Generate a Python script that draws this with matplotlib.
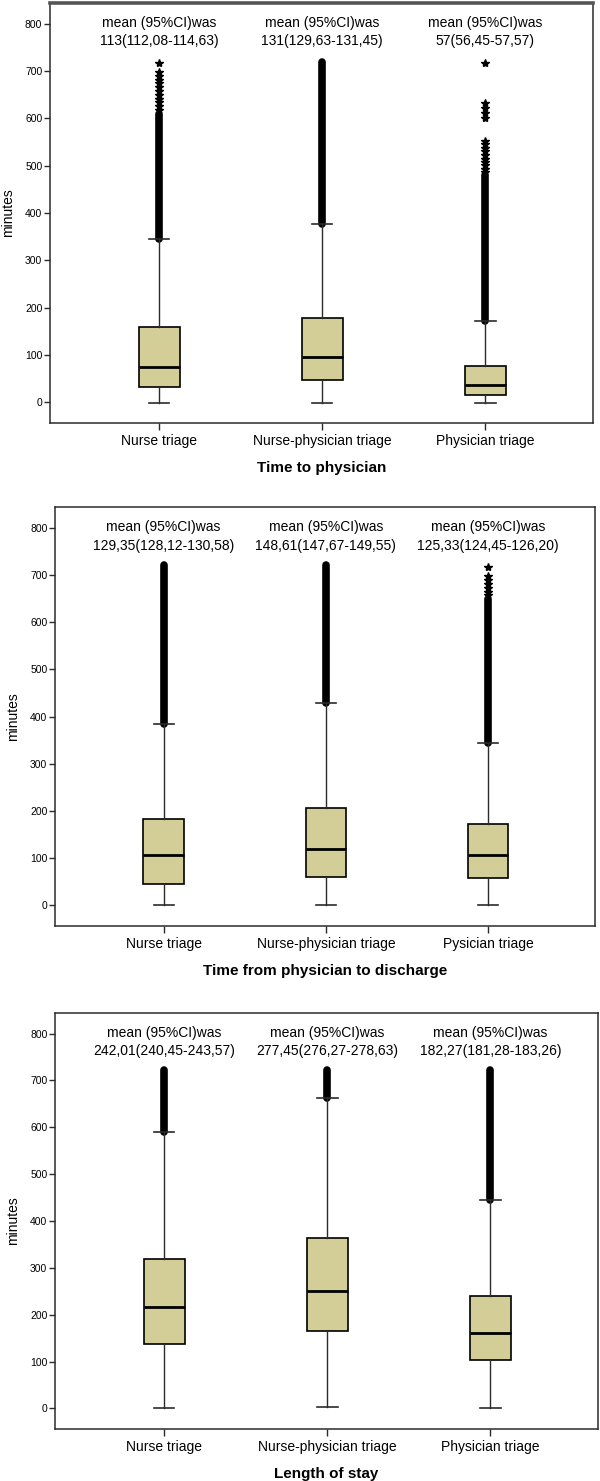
import numpy as np
import matplotlib
matplotlib.use('Agg')
import matplotlib.pyplot as plt

plt.rcParams['font.family'] = ['Liberation Sans', 'DejaVu Sans']

# group names per panel
groups_a = ['Nurse triage', 'Nurse-physician triage', 'Physician triage']
groups_b = ['Nurse triage', 'Nurse-physician triage', 'Pysician triage']
groups_c = ['Nurse triage', 'Nurse-physician triage', 'Physician triage']

titles = ['Time to physician', 'Time from physician to discharge', 'Length of stay']

# box statistics (minutes)
q1_a = [33, 46, 15]
med_a = [74, 96, 37]
q3_a = [158, 178, 77]
lo_a = [-2, -2, -2]
hi_a = [344, 376, 171]

q1_b = [46, 59, 57]
med_b = [106, 120, 107]
q3_b = [182, 207, 172]
lo_b = [0, 0, 0]
hi_b = [384, 428, 343]

q1_c = [137, 165, 104]
med_c = [217, 251, 161]
q3_c = [319, 363, 240]
lo_c = [0, 2, 0]
hi_c = [590, 662, 444]

# ranges where outlier stars overlap into a solid band
dense_a = [(344, 610), (376, 720), (171, 480)]
dense_b = [(384, 722), (428, 722), (343, 650)]
dense_c = [(590, 722), (662, 722), (444, 722)]

# single outlier stars that are still separate
stars_a = [[618, 626, 634, 642, 650, 658, 666, 674, 682, 690, 697, 718],
           [],
           [487, 494, 501, 508, 515, 522, 530, 538, 546, 553, 600, 611, 622, 632, 718]]
stars_b = [[], [], [657, 665, 673, 681, 689, 697, 718]]
stars_c = [[], [], []]

means_a = ['113(112,08-114,63)', '131(129,63-131,45)', '57(56,45-57,57)']
means_b = ['129,35(128,12-130,58)', '148,61(147,67-149,55)', '125,33(124,45-126,20)']
means_c = ['242,01(240,45-243,57)', '277,45(276,27-278,63)', '182,27(181,28-183,26)']

yticks = [0, 100, 200, 300, 400, 500, 600, 700, 800]

fill = '#D3CE97'
dark = '#2b2b2b'

fig = plt.figure(figsize=(6, 14.81), dpi=100)
rects = [[0.0833, 0.7144, 0.905, 0.2836],
         [0.0917, 0.3747, 0.900, 0.2829],
         [0.0917, 0.0351, 0.905, 0.2809]]

panels = [
    (groups_a, q1_a, med_a, q3_a, lo_a, hi_a, dense_a, stars_a, means_a),
    (groups_b, q1_b, med_b, q3_b, lo_b, hi_b, dense_b, stars_b, means_b),
    (groups_c, q1_c, med_c, q3_c, lo_c, hi_c, dense_c, stars_c, means_c),
]

for k, (grp, q1, med, q3, lo, hi, dense, stars, means) in enumerate(panels):
    ax = fig.add_axes(rects[k])
    pos = [1, 2, 3]
    stats = []
    for i in range(3):
        stats.append({'med': med[i], 'q1': q1[i], 'q3': q3[i],
                      'whislo': lo[i], 'whishi': hi[i],
                      'fliers': np.array(stars[i], dtype=float)})
    # bands first so the whisker cap sits over them
    for i in range(3):
        ax.vlines(pos[i], dense[i][0], dense[i][1], color='black',
                  linewidth=5.5, capstyle='round', zorder=2)
    ax.bxp(stats, positions=pos, widths=0.25, patch_artist=True,
           boxprops=dict(facecolor=fill, edgecolor='black', linewidth=1.2),
           medianprops=dict(color='black', linewidth=2),
           whiskerprops=dict(color=dark, linewidth=1),
           capprops=dict(color=dark, linewidth=1.2),
           capwidths=0.125,
           flierprops=dict(marker='*', markersize=6, markerfacecolor='black',
                           markeredgecolor='black', linestyle='none'),
           manage_ticks=False, zorder=3)
    for i in range(3):
        ax.text(pos[i], 782, 'mean (95%CI)was\n' + means[i], ha='center',
                va='center', fontsize=10, linespacing=1.4)
    ax.set_xlim(0.33, 3.66)
    ax.set_ylim(-44, 844)
    ax.set_xticks(pos)
    ax.set_xticklabels(grp, fontsize=10)
    ax.set_yticks(yticks)
    ax.set_yticklabels([str(v) for v in yticks], fontsize=7.5)
    ax.tick_params(axis='y', length=4, width=1, color=dark, pad=1.5)
    ax.tick_params(axis='x', length=5, width=1, color=dark, pad=3)
    ax.set_ylabel('minutes', fontsize=10, labelpad=7)
    ax.set_xlabel(titles[k], fontsize=11, fontweight='bold', labelpad=9)
    for s in ax.spines.values():
        s.set_color(dark)
        s.set_linewidth(1.1)
    if k == 0:
        ax.spines['top'].set_linewidth(2.6)
        ax.spines['top'].set_color('#555555')

fig.savefig('out.png', dpi=100)
